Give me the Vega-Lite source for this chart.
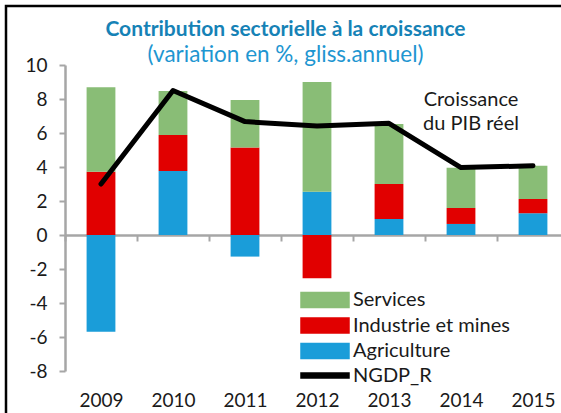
{
  "$schema": "https://vega.github.io/schema/vega-lite/v6.json",
  "autosize": "none",
  "width": 555,
  "height": 407,
  "padding": {"left": 6, "top": 6, "right": 0, "bottom": 0},
  "background": "white",
  "config": {
    "view": {"stroke": "black", "strokeWidth": 2.5, "strokeDash": [555, 962, 407]},
    "font": "Lato"
  },
  "title": {
    "text": "Contribution sectorielle à la croissance",
    "subtitle": "(variation en %, gliss.annuel)",
    "anchor": "middle",
    "offset": -60,
    "dx": 2,
    "font": "Lato",
    "fontSize": 21,
    "fontWeight": "bold",
    "color": "#1682B6",
    "subtitleFont": "Lato",
    "subtitleFontSize": 22.5,
    "subtitleColor": "#1E96D1",
    "subtitlePadding": 4
  },
  "data": {
    "values": [
      {"year": "2009", "series": "Agriculture", "value": -5.69},
      {"year": "2009", "series": "Industrie et mines", "value": 3.72},
      {"year": "2009", "series": "Services", "value": 4.97},
      {"year": "2009", "series": "NGDP_R", "value": 3.0},
      {"year": "2010", "series": "Agriculture", "value": 3.76},
      {"year": "2010", "series": "Industrie et mines", "value": 2.12},
      {"year": "2010", "series": "Services", "value": 2.59},
      {"year": "2010", "series": "NGDP_R", "value": 8.5},
      {"year": "2011", "series": "Agriculture", "value": -1.27},
      {"year": "2011", "series": "Industrie et mines", "value": 5.14},
      {"year": "2011", "series": "Services", "value": 2.8},
      {"year": "2011", "series": "NGDP_R", "value": 6.67},
      {"year": "2012", "series": "Agriculture", "value": 2.55},
      {"year": "2012", "series": "Industrie et mines", "value": -2.55},
      {"year": "2012", "series": "Services", "value": 6.45},
      {"year": "2012", "series": "NGDP_R", "value": 6.41},
      {"year": "2013", "series": "Agriculture", "value": 0.94},
      {"year": "2013", "series": "Industrie et mines", "value": 2.06},
      {"year": "2013", "series": "Services", "value": 3.53},
      {"year": "2013", "series": "NGDP_R", "value": 6.57},
      {"year": "2014", "series": "Agriculture", "value": 0.65},
      {"year": "2014", "series": "Industrie et mines", "value": 0.94},
      {"year": "2014", "series": "Services", "value": 2.37},
      {"year": "2014", "series": "NGDP_R", "value": 3.97},
      {"year": "2015", "series": "Agriculture", "value": 1.28},
      {"year": "2015", "series": "Industrie et mines", "value": 0.84},
      {"year": "2015", "series": "Services", "value": 1.96},
      {"year": "2015", "series": "NGDP_R", "value": 4.07}
    ]
  },
  "encoding": {
    "x": {
      "field": "year",
      "type": "ordinal",
      "scale": {"range": [59, 563], "paddingInner": 0, "paddingOuter": 0},
      "axis": {
        "orient": "bottom",
        "offset": -178,
        "title": null,
        "grid": false,
        "domainColor": "#A6A6A6",
        "domainWidth": 2.5,
        "tickColor": "#A6A6A6",
        "tickWidth": 2,
        "tickSize": 6,
        "tickBand": "extent",
        "labelPadding": 150,
        "labelAngle": 0,
        "labelFont": "Lato",
        "labelFontSize": 19,
        "labelColor": "#1a1a1a"
      }
    }
  },
  "layer": [
    {
      "transform": [{"filter": "datum.series !== 'NGDP_R'"}],
      "mark": {"type": "bar", "width": {"band": 0.4}},
      "encoding": {
        "y": {
          "field": "value",
          "type": "quantitative",
          "stack": "zero",
          "scale": {"domain": [-8, 10], "range": [365, 59], "nice": false, "zero": false},
          "axis": {
            "values": [-8, -6, -4, -2, 0, 2, 4, 6, 8, 10],
            "offset": -59,
            "title": null,
            "grid": false,
            "domainColor": "#A6A6A6",
            "domainWidth": 2.5,
            "tickColor": "#A6A6A6",
            "tickWidth": 2,
            "tickSize": 6,
            "labelPadding": 12,
            "labelFont": "Lato",
            "labelFontSize": 19,
            "labelColor": "#1a1a1a",
            "labelExpr": "'' + datum.value"
          }
        },
        "order": {"field": "series", "sort": "ascending"},
        "color": {
          "field": "series",
          "type": "nominal",
          "scale": {
            "domain": ["Services", "Industrie et mines", "Agriculture", "NGDP_R"],
            "range": ["#89BD76", "#E10000", "#1A9DD9", "#000000"]
          },
          "legend": {
            "orient": "none",
            "legendX": 309,
            "legendY": 284,
            "title": null,
            "padding": 0,
            "labelFont": "Lato",
            "labelFontSize": 20,
            "labelColor": "#1a1a1a",
            "labelOffset": 18,
            "rowPadding": 3.5,
            "symbolType": "M-3.2,-1H3.2V1H-3.2Z",
            "symbolSize": 225,
            "encode": {
              "symbols": {
                "update": {
                  "shape": {"signal": "datum.value === 'NGDP_R' ? 'M-3.2,-0.33H3.2V0.33H-3.2Z' : 'M-3.2,-1H3.2V1H-3.2Z'"},
                  "fill": {"scale": "color", "field": "value"},
                  "stroke": {"value": "transparent"},
                  "opacity": {"value": 1}
                }
              }
            }
          }
        }
      }
    },
    {
      "transform": [{"filter": "datum.series === 'NGDP_R'"}],
      "mark": {"type": "line", "strokeWidth": 5, "strokeCap": "round", "strokeJoin": "round"},
      "encoding": {
        "y": {"field": "value", "type": "quantitative"},
        "color": {"field": "series", "type": "nominal"}
      }
    },
    {
      "data": {"values": [{"year": "2014", "value": 7.92, "label": ["Croissance", "du PIB réel"]}]},
      "mark": {"type": "text", "align": "center", "baseline": "middle", "dx": 10, "font": "Lato", "fontSize": 20, "lineHeight": 24, "color": "#1a1a1a"},
      "encoding": {
        "y": {"field": "value", "type": "quantitative"},
        "text": {"field": "label"}
      }
    }
  ]
}
